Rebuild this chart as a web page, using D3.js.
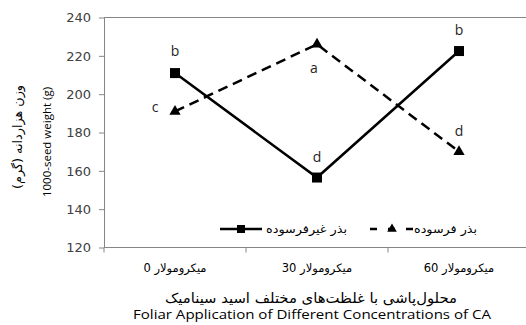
<!DOCTYPE html>
<html>
<head>
<meta charset="utf-8">
<script src="https://cdn.jsdelivr.net/npm/d3@7"></script>
<style>
  html, body { margin: 0; padding: 0; background: #fff; }
  svg { display: block; }
</style>
</head>
<body>
<svg id="chart" width="526" height="325"></svg>
<script>
// Concentration levels of cinnamic acid (x categories)
const categories = ["میکرومولار 0", "میکرومولار 30", "میکرومولار 60"];
// 1000-seed weight (g), non-aged seeds (solid line, squares)
const nonAged = [211, 156.5, 222.5];
const nonAgedLetters = ["b", "d", "b"];
// 1000-seed weight (g), aged seeds (dashed line, triangles)
const aged = [191, 226, 170];
const agedLetters = ["c", "a", "d"];
// Y axis ticks
const yTicks = [120, 140, 160, 180, 200, 220, 240];
const seriesNames = ["بذر غیرفرسوده", "بذر فرسوده"];

const svg = d3.select("#chart");
const plotL = 104, plotR = 530, plotT = 17.5, plotB = 247.5;

const x = d3.scaleBand().domain(categories).range([plotL, plotR]).padding(0);
const y = d3.scaleLinear().domain([120, 240]).range([plotB, plotT]);
const cx = c => x(c) + x.bandwidth() / 2;

const tickFont = "'DejaVu Sans', sans-serif";
const latinFont = "'Open Sans', sans-serif";

// Top frame line
svg.append("line").attr("x1", plotL).attr("x2", 526).attr("y1", plotT).attr("y2", plotT)
  .attr("stroke", "#868686").attr("stroke-width", 1);

// Y axis
const yAxis = svg.append("g").attr("transform", `translate(${plotL},0)`)
  .call(d3.axisLeft(y).tickValues(yTicks).tickSize(5).tickSizeOuter(0).tickPadding(8));
yAxis.select(".domain").attr("stroke", "#868686");
yAxis.selectAll(".tick line").attr("stroke", "#868686");
yAxis.selectAll(".tick text").attr("font-family", tickFont).attr("font-size", 13)
  .attr("fill", "#404040");

// X axis (ticks between categories, pointing down)
const xAxis = svg.append("g").attr("transform", `translate(0,${plotB})`);
xAxis.append("line").attr("x1", plotL).attr("x2", 526).attr("y1", 0).attr("y2", 0)
  .attr("stroke", "#868686");
const bounds = categories.map(c => x(c)).concat([plotR]);
xAxis.selectAll("line.tk").data(bounds).join("line").attr("class", "tk")
  .attr("x1", d => d).attr("x2", d => d).attr("y1", 0).attr("y2", 5)
  .attr("stroke", "#868686");
xAxis.selectAll("text").data(categories).join("text")
  .attr("x", d => cx(d)).attr("y", 24)
  .attr("text-anchor", "middle").attr("direction", "rtl")
  .attr("font-family", tickFont).attr("font-size", 11.5).attr("fill", "#000")
  .text(d => d);

// X axis titles
svg.append("text").attr("x", 311).attr("y", 303).attr("text-anchor", "middle")
  .attr("direction", "rtl").attr("font-family", tickFont).attr("font-size", 14)
  .attr("textLength", 292).attr("lengthAdjust", "spacingAndGlyphs")
  .attr("fill", "#000").text("محلول‌پاشی با غلظت‌های مختلف اسید سینامیک");
svg.append("text").attr("x", 312).attr("y", 319).attr("text-anchor", "middle")
  .attr("font-family", latinFont).attr("font-size", 13.5)
  .attr("textLength", 358).attr("lengthAdjust", "spacingAndGlyphs")
  .attr("fill", "#000").text("Foliar Application  of Different  Concentrations of CA");

// Y axis titles
svg.append("text").attr("transform", "translate(22,137) rotate(-90)")
  .attr("text-anchor", "middle").attr("direction", "rtl")
  .attr("font-family", tickFont).attr("font-size", 12.5)
  .attr("textLength", 104).attr("lengthAdjust", "spacingAndGlyphs")
  .attr("fill", "#000").text("وزن هزاردانه (گرم)");
svg.append("text").attr("transform", "translate(51,142) rotate(-90)")
  .attr("text-anchor", "middle")
  .attr("font-family", latinFont).attr("font-size", 11.5).attr("fill", "#000")
  .text("1000-seed weight (g)");

const line = d3.line().x((d, i) => cx(categories[i])).y(d => y(d));

// Aged series (dashed)
svg.append("path").datum(aged).attr("d", line).attr("fill", "none")
  .attr("stroke", "#000").attr("stroke-width", 2.5).attr("stroke-dasharray", "10,6");
const tri = d3.symbol().type(d3.symbolTriangle).size(55);
svg.selectAll("path.tri").data(aged).join("path").attr("class", "tri")
  .attr("transform", (d, i) => `translate(${cx(categories[i])},${y(d)})`)
  .attr("d", tri).attr("fill", "#000");

// Non-aged series (solid)
svg.append("path").datum(nonAged).attr("d", line).attr("fill", "none")
  .attr("stroke", "#000").attr("stroke-width", 2.5);
svg.selectAll("rect.sq").data(nonAged).join("rect").attr("class", "sq")
  .attr("x", (d, i) => cx(categories[i]) - 5).attr("y", d => y(d) - 5)
  .attr("width", 10).attr("height", 10).attr("fill", "#000");

// Significance letters
const nonAgedOffset = [[0, -17], [0, -16], [0, -16]];
svg.selectAll("text.la").data(nonAged).join("text").attr("class", "la")
  .attr("x", (d, i) => cx(categories[i]) + nonAgedOffset[i][0])
  .attr("y", (d, i) => y(d) + nonAgedOffset[i][1])
  .attr("text-anchor", "middle").attr("font-family", latinFont).attr("font-size", 14)
  .attr("fill", "#1f1f1f").text((d, i) => nonAgedLetters[i]);
const agedOffset = [[-20, 1], [-3, 29], [0, -16]];
svg.selectAll("text.lb").data(aged).join("text").attr("class", "lb")
  .attr("x", (d, i) => cx(categories[i]) + agedOffset[i][0])
  .attr("y", (d, i) => y(d) + agedOffset[i][1])
  .attr("text-anchor", "middle").attr("font-family", latinFont).attr("font-size", 14)
  .attr("fill", "#1f1f1f").text((d, i) => agedLetters[i]);

// Legend
const lg = svg.append("g").attr("transform", "translate(0,229)");
lg.append("line").attr("x1", 220).attr("x2", 262).attr("y1", 0).attr("y2", 0)
  .attr("stroke", "#000").attr("stroke-width", 2.5);
lg.append("rect").attr("x", 237).attr("y", -4).attr("width", 8).attr("height", 8).attr("fill", "#000");
lg.append("text").attr("x", 347).attr("y", 4).attr("text-anchor", "start").attr("direction", "rtl")
  .attr("font-family", tickFont).attr("font-size", 11.5)
  .attr("textLength", 81).attr("lengthAdjust", "spacingAndGlyphs")
  .attr("fill", "#000").text(seriesNames[0]);
lg.append("line").attr("x1", 370).attr("x2", 413).attr("y1", 0).attr("y2", 0)
  .attr("stroke", "#000").attr("stroke-width", 2.5).attr("stroke-dasharray", "7,11");
lg.append("path").attr("transform", "translate(392,0)")
  .attr("d", d3.symbol().type(d3.symbolTriangle).size(40)).attr("fill", "#000");
lg.append("text").attr("x", 477).attr("y", 4).attr("text-anchor", "start").attr("direction", "rtl")
  .attr("font-family", tickFont).attr("font-size", 11.5)
  .attr("textLength", 63).attr("lengthAdjust", "spacingAndGlyphs")
  .attr("fill", "#000").text(seriesNames[1]);
</script>
</body>
</html>
